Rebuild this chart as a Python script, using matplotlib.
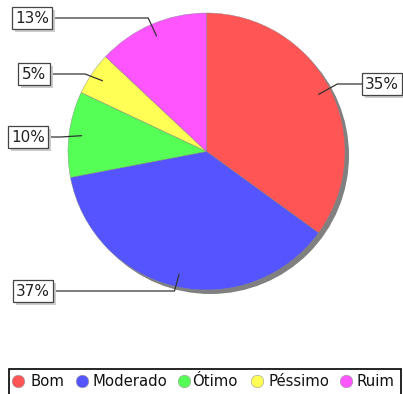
import numpy as np
import matplotlib
matplotlib.use("Agg")
import matplotlib.pyplot as plt
from matplotlib.patches import Circle, Rectangle, Wedge

# Category shares (%)
categories = ["Bom", "Moderado", "Ótimo", "Péssimo", "Ruim"]
values = [35, 37, 10, 5, 13]
colors = ["#FF5555", "#5555FF", "#55FF55", "#FFFF55", "#FF55FF"]

W, H = 403, 394
fig = plt.figure(figsize=(W / 100, H / 100), dpi=100)
ax = fig.add_axes([0, 0, 1, 1])
ax.set_xlim(0, W)
ax.set_ylim(H, 0)
ax.axis("off")

cx, cy, R = 206.5, 151.5, 138.5

# Shadow behind the pie
ax.add_patch(Circle((cx + 4, cy + 4), R, facecolor="#808080", edgecolor="none", zorder=1))

# Pie wedges, clockwise from 12 o'clock (screen y points down, so angles are negated)
total = float(sum(values))
start = 90.0
mids = []
for v, c in zip(values, colors):
    sweep = 360.0 * v / total
    end = start - sweep
    ax.add_patch(Wedge((cx, cy), R, -start, -end, facecolor=c, edgecolor="#888888",
                       linewidth=0.3, zorder=2))
    mids.append(np.deg2rad(start - sweep / 2))
    start = end

# Label box centres, leader side and half-width
label_pos = {
    "Bom": (382, 84, "left", 20),
    "Moderado": (33, 291, "right", 20),
    "Ótimo": (28, 137, "right", 20),
    "Péssimo": (34, 74, "right", 16),
    "Ruim": (32, 18, "right", 20),
}

for cat, v, m in zip(categories, values, mids):
    lx, ly, side, hw = label_pos[cat]
    ex = cx + 1.06 * R * np.cos(m)
    inner = (cx + 0.91 * R * np.cos(m), cy - 0.91 * R * np.sin(m))
    bx = lx + hw if side == "right" else lx - hw
    ax.plot([bx, ex, inner[0]], [ly, ly, inner[1]], color="#333333", lw=0.9,
            zorder=3, solid_joinstyle="miter")
    # label shadow and box
    ax.add_patch(Rectangle((lx - hw + 2.5, ly - 11 + 2.5), 2 * hw, 22,
                           facecolor="#cccccc", edgecolor="none", zorder=4))
    ax.add_patch(Rectangle((lx - hw, ly - 11), 2 * hw, 22,
                           facecolor="white", edgecolor="#444444", lw=0.9, zorder=5))
    ax.text(lx, ly + 0.5, f"{v}%", ha="center", va="center", fontsize=11,
            color="#222222", zorder=6)

# Legend frame and entries
ax.add_patch(Rectangle((8.5, 368.5), 392.5, 30, facecolor="white",
                       edgecolor="black", lw=1.2, zorder=2))
marker_x = [18, 82, 184, 257, 346]
text_x = [31, 93, 192, 268, 356]
ly = 381
for cat, c, mx, tx in zip(categories, colors, marker_x, text_x):
    ax.plot([mx], [ly], marker="o", markersize=9, markerfacecolor=c,
            markeredgecolor="#999999", markeredgewidth=0.4, zorder=3)
    ax.text(tx, ly + 0.5, cat, ha="left", va="center", fontsize=10.7,
            color="#111111", zorder=3)

fig.savefig("out.png", dpi=100)
